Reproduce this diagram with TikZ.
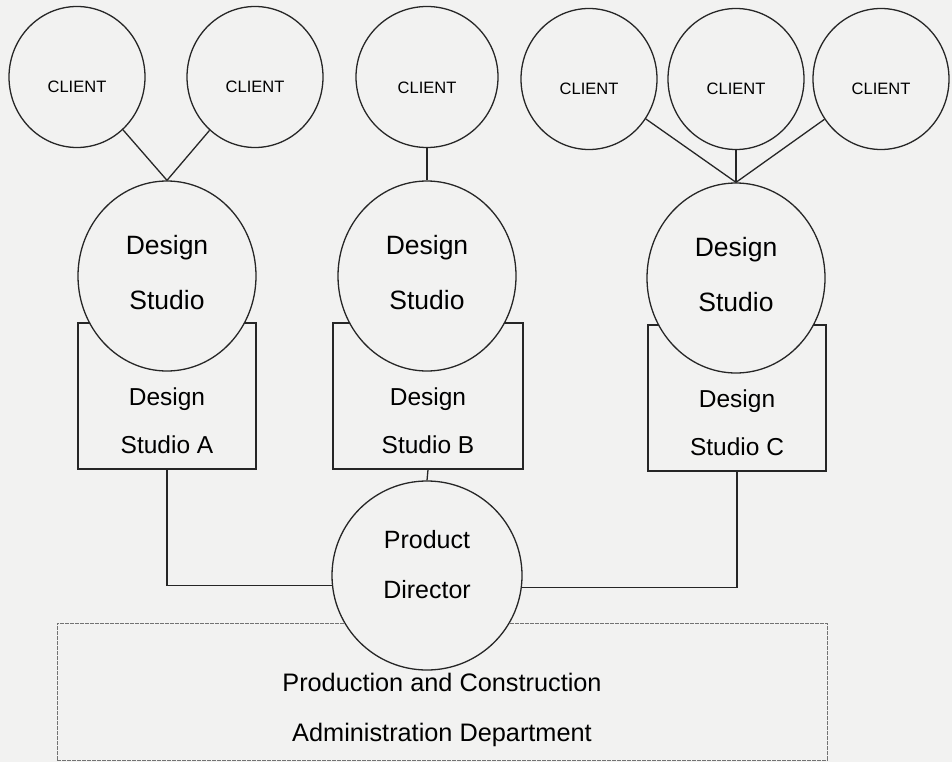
\documentclass[tikz,border=0pt]{standalone}
\usepackage{fontspec}
\setmainfont{Liberation Sans}
\usetikzlibrary{shapes.geometric}
\definecolor{paper}{RGB}{242,242,241}
\tikzset{
  x=1pt, y=-1pt,
  line/.style={draw=black!85, line width=1.3pt},
  client/.style={ellipse, line, fill=paper, inner sep=0pt, minimum width=136pt, minimum height=141pt},
  clienttext/.style={font=\fontsize{16.5}{18}\selectfont},
  studio/.style={ellipse, line, fill=paper, inner sep=0pt, minimum width=178pt, minimum height=190pt},
  studiobox/.style={rectangle, line, fill=paper, inner sep=0pt},
  bigtext/.style={align=center, font=\fontsize{26.5}{55}\selectfont},
  boxtext/.style={align=center, font=\fontsize{24.5}{48}\selectfont},
  pdtext/.style={align=center, font=\fontsize{25}{50}\selectfont},
  depttextstyle/.style={align=center, font=\fontsize{25.3}{50}\selectfont},
  dept/.style={rectangle, draw=black!55, line width=0.7pt, dash pattern=on 4pt off 1pt, inner sep=0pt},
}
\begin{document}
\begin{tikzpicture}
\fill[paper] (0,0) rectangle (952,762);
% department box (behind director circle)
\node[dept, minimum width=770pt, minimum height=137pt] (dept) at (442,691.5) {};
\node[depttextstyle] (depttext) at (442,710) {Production and Construction\\Administration Department};
% client circles
\node[client] (c1) at (77,77) {};
\node[client] (c2) at (255,77) {};
\node[client, minimum width=142pt] (c3) at (427,77) {};
\node[client] (c4) at (589,79) {};
\node[client] (c5) at (736,79) {};
\node[client] (c6) at (881,79) {};
\foreach \c/\x/\y in {c1/77/87, c2/255/87, c3/427/88, c4/589/89, c5/736/89, c6/881/89}
  \node[clienttext] (\c t) at (\x,\y) {CLIENT};
% studio boxes
\node[studiobox, minimum width=178pt, minimum height=146pt] (rA) at (167,396) {};
\node[studiobox, minimum width=190pt, minimum height=146pt] (rB) at (428,396) {};
\node[studiobox, minimum width=178pt, minimum height=146pt] (rC) at (737,398) {};
\node[boxtext] (rAt) at (167,421) {Design\\Studio A};
\node[boxtext] (rBt) at (428,421) {Design\\Studio B};
\node[boxtext] (rCt) at (737,423) {Design\\Studio C};
% studio circles
\node[studio] (dA) at (167,276) {};
\node[studio] (dB) at (427,276) {};
\node[studio] (dC) at (736,278) {};
\node[bigtext] (dAt) at (167,273) {Design\\Studio};
\node[bigtext] (dBt) at (427,273) {Design\\Studio};
\node[bigtext] (dCt) at (736,275) {Design\\Studio};
% product director
\node[ellipse, line, fill=paper, inner sep=0pt, minimum width=190pt, minimum height=189pt] (pd) at (427,575.5) {};
\node[pdtext] (pdt) at (427,565) {Product\\Director};
% connectors
\draw[line] (c1) -- (dA.north);
\draw[line] (c2) -- (dA.north);
\draw[line] (c3) -- (dB.north);
\draw[line] (c4) -- (dC.north);
\draw[line] (c5) -- (dC.north);
\draw[line] (c6) -- (dC.north);
\draw[line] (rA.south) |- (pd.186);
\draw[line] (rC.south) |- (pd.353);
\draw[line] (rB.south) -- (pd.north);
\end{tikzpicture}
\end{document}
